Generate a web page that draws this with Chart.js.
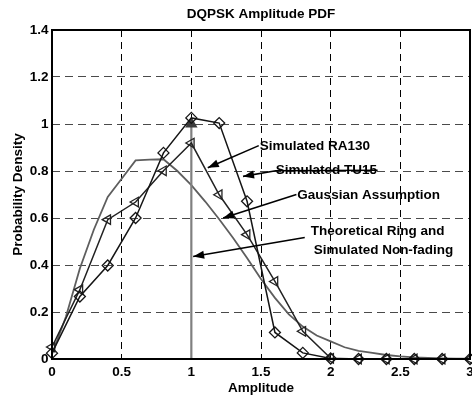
<!DOCTYPE html>
<html>
<head>
<meta charset="utf-8">
<script src="https://cdn.jsdelivr.net/npm/chart.js@4"></script>
<style>
  html, body { margin: 0; padding: 0; background: #fff; }
  canvas { display: block; }
</style>
</head>
<body>
<canvas id="chart" width="472" height="398"></canvas>
<script>
// simulated curves, sampled every 0.2
const amplitude = [0, 0.2, 0.4, 0.6, 0.8, 1.0, 1.2, 1.4, 1.6, 1.8, 2.0, 2.2, 2.4, 2.6, 2.8, 3.0];
const tu15 = [0.025, 0.266, 0.398, 0.600, 0.877, 1.026, 1.004, 0.671, 0.113, 0.026, 0.002, 0, 0, 0, 0, 0];
const ra130 = [0.051, 0.295, 0.593, 0.668, 0.801, 0.919, 0.699, 0.529, 0.330, 0.118, 0.003, 0, 0, 0, 0, 0];

// gaussian assumption, sampled every 0.1
const gaussX = [0, 0.1, 0.2, 0.3, 0.4, 0.5, 0.6, 0.7, 0.8, 0.9, 1.0, 1.1, 1.2, 1.3, 1.4, 1.5,
  1.6, 1.7, 1.8, 1.9, 2.0, 2.1, 2.2, 2.3, 2.4, 2.5, 2.6, 2.7, 2.8, 2.9, 3.0];
const gaussY = [0.02, 0.18, 0.385, 0.55, 0.69, 0.767, 0.845, 0.848, 0.85, 0.80, 0.74, 0.67, 0.595, 0.515, 0.43, 0.34,
  0.26, 0.19, 0.138, 0.10, 0.075, 0.05, 0.035, 0.026, 0.017, 0.011, 0.007, 0.005, 0.003, 0.002, 0.001];

// theoretical ring (delta at amplitude 1)
const ringX = [1, 1];
const ringY = [0, 1.0];

const xTickLabels = ['0', '0.5', '1', '1.5', '2', '2.5', '3'];
const yTickLabels = ['0', '0.2', '0.4', '0.6', '0.8', '1', '1.2', '1.4'];

// annotations (data units)
const noteText = ['Simulated RA130', 'Simulated TU15', 'Gaussian Assumption', 'Theoretical Ring and', 'Simulated Non-fading'];
const noteX = [1.491, 1.606, 1.761, 2.337, 2.38];
const noteY = [0.905, 0.803, 0.696, 0.543, 0.461];
const noteAlign = ['left', 'left', 'left', 'center', 'center'];
const arrows = [
  [[1.484, 0.908], [1.118, 0.814]],
  [[2.337, 0.803], [1.606, 0.801], [1.371, 0.777]],
  [[1.754, 0.700], [1.228, 0.600]],
  [[1.814, 0.517], [1.013, 0.436]]
];

const FONT = 'Arial, "Liberation Sans", sans-serif';
const AREA = { left: 52, top: 30, right: 470, bottom: 359 };
const xy = (xs, ys) => xs.map((x, i) => ({ x: x, y: ys[i] }));

const framePlugin = {
  id: 'frame',
  afterLayout(chart) {
    // pin the plot box to the same place as in the figure
    const a = chart.chartArea, sx = chart.scales.x, sy = chart.scales.y;
    Object.assign(a, AREA, { width: AREA.right - AREA.left, height: AREA.bottom - AREA.top });
    sx.left = AREA.left; sx.right = AREA.right; sx.width = AREA.right - AREA.left;
    sx.top = AREA.bottom; sx.bottom = chart.height; sx.height = chart.height - AREA.bottom;
    sy.top = AREA.top; sy.bottom = AREA.bottom; sy.height = AREA.bottom - AREA.top;
    sy.left = 0; sy.right = AREA.left; sy.width = AREA.left;
    [sx, sy].forEach(s => { s.configure(); s._labelItems = null; s._gridLineItems = null; });
    const t = chart.titleBlock;
    if (t) { t.left = AREA.left; t.right = AREA.right; t.width = AREA.right - AREA.left; }
  },
  afterDatasetsDraw(chart) {
    const { ctx, chartArea: a } = chart;
    ctx.save();
    ctx.strokeStyle = '#000';
    ctx.lineWidth = 2;
    ctx.strokeRect(a.left, a.top, a.right - a.left, a.bottom - a.top);
    ctx.restore();
  },
  afterDraw(chart) {
    const { ctx } = chart;
    const sx = chart.scales.x, sy = chart.scales.y;
    ctx.save();
    ctx.strokeStyle = '#000';
    ctx.fillStyle = '#000';
    ctx.lineWidth = 1.6;
    arrows.forEach(pts => {
      const p = pts.map(q => [sx.getPixelForValue(q[0]), sy.getPixelForValue(q[1])]);
      ctx.beginPath();
      ctx.moveTo(p[0][0], p[0][1]);
      for (let i = 1; i < p.length; i++) ctx.lineTo(p[i][0], p[i][1]);
      ctx.stroke();
      const tip = p[p.length - 1], prev = p[p.length - 2];
      const ang = Math.atan2(tip[1] - prev[1], tip[0] - prev[0]);
      const len = 11, half = 4;
      ctx.beginPath();
      ctx.moveTo(tip[0], tip[1]);
      ctx.lineTo(tip[0] - len * Math.cos(ang) + half * Math.sin(ang), tip[1] - len * Math.sin(ang) - half * Math.cos(ang));
      ctx.lineTo(tip[0] - len * Math.cos(ang) - half * Math.sin(ang), tip[1] - len * Math.sin(ang) + half * Math.cos(ang));
      ctx.closePath();
      ctx.fill();
    });
    ctx.font = 'bold 13.5px ' + FONT;
    ctx.textBaseline = 'middle';
    noteText.forEach((t, i) => {
      ctx.textAlign = noteAlign[i];
      ctx.fillText(t, sx.getPixelForValue(noteX[i]), sy.getPixelForValue(noteY[i]));
    });
    ctx.restore();
  }
};

new Chart(document.querySelector('#chart').getContext('2d'), {
  type: 'scatter',
  data: {
    datasets: [
      {
        label: 'Simulated TU15',
        data: xy(amplitude, tu15),
        showLine: true,
        borderColor: '#151515',
        borderWidth: 1.5,
        pointStyle: 'rectRot',
        pointRadius: 5.5,
        pointBorderWidth: 1.3,
        pointBorderColor: '#151515',
        pointBackgroundColor: 'rgba(0,0,0,0)',
        clip: false,
        order: 1
      },
      {
        label: 'Simulated RA130',
        data: xy(amplitude, ra130),
        showLine: true,
        borderColor: '#222',
        borderWidth: 1.5,
        pointStyle: 'triangle',
        pointRotation: 270,
        pointRadius: 5.5,
        pointBorderWidth: 1.3,
        pointBorderColor: '#222',
        pointBackgroundColor: 'rgba(0,0,0,0)',
        clip: false,
        order: 2
      },
      {
        label: 'Theoretical Ring',
        data: xy(ringX, ringY),
        showLine: true,
        borderColor: '#808080',
        borderWidth: 2.2,
        pointStyle: 'triangle',
        pointRadius: [0, 5],
        pointBorderColor: '#3c3c3c',
        pointBackgroundColor: '#3c3c3c',
        order: 3
      },
      {
        label: 'Gaussian Assumption',
        data: xy(gaussX, gaussY),
        showLine: true,
        borderColor: '#5e5e5e',
        borderWidth: 1.8,
        pointRadius: 0,
        clip: false,
        order: 4
      }
    ]
  },
  options: {
    responsive: false,
    animation: false,
    layout: { padding: { right: 2 } },
    plugins: {
      legend: { display: false },
      tooltip: { enabled: false },
      title: {
        display: true,
        text: 'DQPSK Amplitude PDF',
        color: '#000',
        fullSize: false,
        font: { family: FONT, size: 13.5, weight: 'bold' },
        padding: { top: 6.4, bottom: 7.4 }
      }
    },
    scales: {
      x: {
        type: 'linear',
        min: 0,
        max: 3,
        afterFit(s) { s.height = 39; },
        ticks: {
          stepSize: 0.5,
          autoSkip: false,
          maxRotation: 0,
          padding: 5.4,
          color: '#000',
          font: { family: FONT, size: 13.5, weight: 'bold' },
          callback: (v, i) => xTickLabels[i]
        },
        grid: {
          drawTicks: false,
          lineWidth: 1,
          color: c => (c.tick && (c.tick.value === 0 || c.tick.value === 3)) ? 'rgba(0,0,0,0)' : '#000'
        },
        border: { display: false, dash: [7, 5] },
        title: {
          display: true,
          text: 'Amplitude',
          color: '#000',
          font: { family: FONT, size: 13.5, weight: 'bold' },
          padding: { top: 0, bottom: 1.9 }
        }
      },
      y: {
        type: 'linear',
        min: 0,
        max: 1.4,
        afterFit(s) { s.width = 52; },
        ticks: {
          stepSize: 0.2,
          padding: 3.5,
          color: '#000',
          font: { family: FONT, size: 13.5, weight: 'bold' },
          callback: (v, i) => yTickLabels[i]
        },
        grid: {
          drawTicks: false,
          lineWidth: 1,
          color: c => (c.tick && (c.tick.value === 0 || Math.abs(c.tick.value - 1.4) < 1e-6)) ? 'rgba(0,0,0,0)' : '#4a4a4a'
        },
        border: { display: false, dash: [8, 5] },
        title: {
          display: true,
          text: 'Probability Density',
          color: '#000',
          font: { family: FONT, size: 13.5, weight: 'bold' },
          padding: { top: 10, bottom: 0 }
        }
      }
    }
  },
  plugins: [framePlugin]
});
</script>
</body>
</html>
